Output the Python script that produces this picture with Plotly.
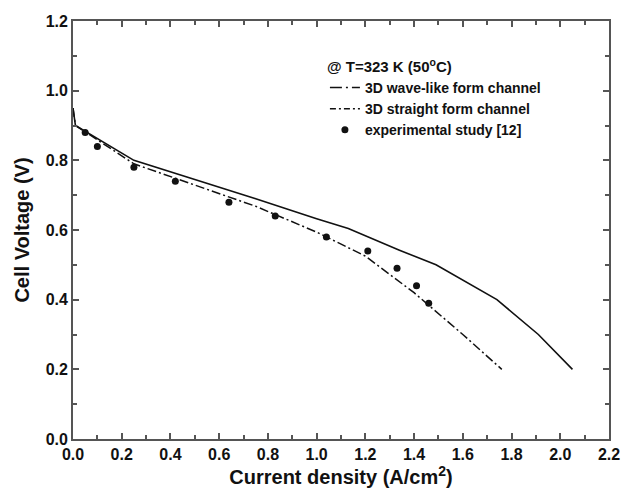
import plotly.graph_objects as go

# Polarization curves at T = 323 K
wave_j = [0.0, 0.01, 0.25, 0.50, 0.75, 1.00, 1.13, 1.34, 1.49, 1.74, 1.91, 2.05]
wave_v = [0.95, 0.90, 0.80, 0.745, 0.69, 0.632, 0.604, 0.542, 0.50, 0.40, 0.30, 0.20]

straight_j = [0.0, 0.01, 0.25, 0.50, 0.75, 1.00, 1.20, 1.40, 1.60, 1.76]
straight_v = [0.95, 0.90, 0.79, 0.728, 0.668, 0.594, 0.525, 0.42, 0.30, 0.20]

exp_j = [0.05, 0.10, 0.25, 0.42, 0.64, 0.83, 1.04, 1.21, 1.33, 1.41, 1.46]
exp_v = [0.88, 0.84, 0.78, 0.74, 0.68, 0.64, 0.58, 0.54, 0.49, 0.44, 0.39]

x_ticks = [0.0, 0.2, 0.4, 0.6, 0.8, 1.0, 1.2, 1.4, 1.6, 1.8, 2.0, 2.2]
y_ticks = [0.0, 0.2, 0.4, 0.6, 0.8, 1.0, 1.2]

INK = "#111111"
AXIS = "#555555"
FONT = "Liberation Sans, Arial, sans-serif"

fig = go.Figure()

# curves drawn on the plot
fig.add_trace(go.Scatter(x=wave_j, y=wave_v, mode="lines",
                         line=dict(color=INK, width=1.6),
                         showlegend=False))
fig.add_trace(go.Scatter(x=straight_j, y=straight_v, mode="lines",
                         line=dict(color=INK, width=1.5, dash="9px,3px,2px,3px"),
                         showlegend=False))

# legend samples
fig.add_trace(go.Scatter(x=[None], y=[None], mode="lines",
                         name="3D wave-like form channel",
                         line=dict(color=INK, width=1.5, dash="12px,4px,2px,4px")))
fig.add_trace(go.Scatter(x=[None], y=[None], mode="lines",
                         name="3D straight form channel",
                         line=dict(color=INK, width=1.5, dash="6px,3px,2px,3px")))
fig.add_trace(go.Scatter(x=exp_j, y=exp_v, mode="markers",
                         name="experimental study [12]",
                         marker=dict(color=INK, size=7, symbol="circle")))

axis_common = dict(
    showline=True, linecolor=AXIS, linewidth=1.8, mirror="allticks",
    ticks="inside", ticklen=6, tickwidth=1.5, tickcolor=AXIS,
    showgrid=False, zeroline=False,
    tickfont=dict(family=FONT, size=16, color=INK, weight="bold"),
    minor=dict(ticks="inside", ticklen=4, tickwidth=1.5, tickcolor=AXIS,
               dtick=0.1, showgrid=False),
)

fig.update_layout(
    width=624, height=489,
    margin=dict(l=73, r=15, t=21, b=50),
    plot_bgcolor="white", paper_bgcolor="white",
    font=dict(family=FONT, color=INK),
    xaxis=dict(range=[0, 2.2], tickvals=x_ticks, tickformat=".1f",
               title=dict(text="Current density (A/cm<sup>2</sup>)",
                          font=dict(family=FONT, size=20, color=INK, weight="bold"),
                          standoff=2),
               automargin=False, **axis_common),
    yaxis=dict(range=[0, 1.2], tickvals=y_ticks, tickformat=".1f",
               title=dict(text="Cell Voltage (V)",
                          font=dict(family=FONT, size=20, color=INK, weight="bold"),
                          standoff=11),
               automargin=False, **axis_common),
    legend=dict(
        x=0.47, y=0.925, xanchor="left", yanchor="top",
        bgcolor="rgba(0,0,0,0)", borderwidth=0,
        title=dict(text="@ T=323 K (50<sup>o</sup>C)", side="top",
                   font=dict(family=FONT, size=15, color=INK, weight="bold")),
        font=dict(family=FONT, size=14, color=INK, weight="bold"),
        tracegroupgap=0, itemwidth=30,
    ),
)

fig.write_html("out.html")
